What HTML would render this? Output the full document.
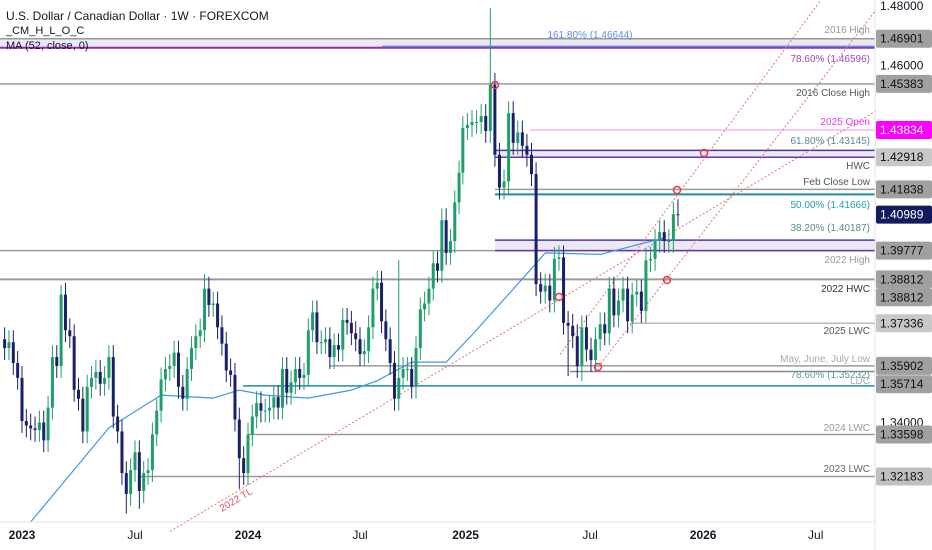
<!DOCTYPE html>
<html><head><meta charset="utf-8"><style>
body{margin:0;background:#fff;width:932px;height:550px;overflow:hidden;font-family:"Liberation Sans",sans-serif}
svg{display:block}
</style></head><body>
<svg id="chart" width="932" height="550" viewBox="0 0 932 550" font-family="Liberation Sans, sans-serif">
<g id="levels"></g>
<g id="lines"></g>
<g id="ma"></g>
<g id="candles"></g>
<g id="marks"></g>
<g id="labels"></g>
<line x1="875" y1="0" x2="875" y2="550" stroke="#e0e3eb"/>
<line x1="0" y1="522" x2="875" y2="522" stroke="#e0e3eb"/>
<g id="axis"></g>
<text x="6" y="20" font-size="12" fill="#131722">U.S. Dollar / Canadian Dollar · 1W · FOREXCOM</text>
<text x="6" y="34" font-size="11" fill="#131722">_CM_H_L_O_C</text>
<text x="6" y="49" font-size="11" fill="#131722">MA (52, close, 0)</text>
<text x="0" y="0" font-size="10" fill="#e0506a" transform="translate(222,512) rotate(-31)">2022 TL</text>
</svg>
<script>
const closes=[1.3650,1.3670,1.3600,1.3550,
1.3405,1.3390,1.3380,1.3375,1.3400,1.3340,1.3450,1.3620,1.3590,1.3830,1.3710,1.3690,1.3510,1.3480,1.3370,1.3520,1.3550,1.3570,1.3530,1.3550,1.3620,1.3420,1.3370,1.3230,1.3160,1.3240,1.3300,1.3170,1.3230,1.3240,1.3360,1.3440,1.3545,1.3580,1.3590,1.3635,1.3520,1.3480,1.3580,1.3650,1.3690,1.3710,1.3850,1.3795,1.3800,1.3720,1.3665,1.3575,1.3560,1.3410,1.3280,1.3230,
1.3360,1.3420,1.3465,1.3440,1.3440,1.3450,1.3485,1.3450,1.3580,1.3500,1.3535,1.3580,1.3550,1.3560,1.3710,1.3770,1.3670,1.3670,1.3680,1.3620,1.3660,1.3645,1.3745,1.3735,1.3700,1.3680,1.3630,1.3640,1.3720,1.3850,1.3870,1.3740,1.3680,1.3600,1.3480,1.3550,1.3580,1.3580,1.3520,1.3650,1.3780,1.3800,1.3850,1.3935,1.3910,1.4080,1.3970,1.4010,1.4140,1.4240,1.4390,1.4400,1.4410,
1.4410,1.4430,1.4380,1.4535,1.4300,1.4190,1.4210,1.4440,1.4340,1.4375,1.4330,1.4300,1.4235,1.3865,1.3840,1.3860,1.3810,1.3950,1.3955,1.3735,1.3725,1.3690,1.3590,1.3720,1.3645,1.3610,1.3680,1.3730,1.3700,1.3850,1.3760,1.3810,1.3850,1.3740,1.3830,1.3840,1.3775,1.3945,1.3950,1.4010,1.4040,1.4010,1.4010,1.4100,1.4099];
const highOverrides={13:1.3862,46:1.3898,91:1.3946,112:1.4793,153:1.4150};
const lowOverrides={28:1.3094,31:1.3110,54:1.3177,132:1.3540,129:1.3556};
const maWeeks=[6,24,36,48,54,60,70,80,86,94,102,108,120,124,136,146,150];
const maValues=[1.3066,1.3382,1.3492,1.3482,1.3509,1.3492,1.3482,1.3509,1.3540,1.3603,1.3603,1.3694,1.3900,1.3970,1.3965,1.4005,1.4020];
const tickPrices=[1.48,1.46,1.34];
const tickLabels=["1.48000","1.46000","1.34000"];
const timeWeeks=[4,30,56,82,106.6,133.8,158.5,183.1];
const timeLabels=["2023","Jul","2024","Jul","2025","Jul","2026","Jul"];
const timeBold=[1,0,1,0,1,0,1,0];

const NS="http://www.w3.org/2000/svg";
function Y(p){return 6+(1.48-p)*2975;}
const ancI=[4,56,108,160],ancX=[22,248,472,710];
function X(i){let k=0;if(i>=56)k=1;if(i>=108)k=2;if(i<108&&i>=106)k=2;const s=(ancX[k+1]-ancX[k])/(ancI[k+1]-ancI[k]);return ancX[k]+(i-ancI[k])*s;}
function el(t,a,par){const e=document.createElementNS(NS,t);for(const k in a)e.setAttribute(k,a[k]);par.appendChild(e);return e;}

// levels
const L=document.getElementById('levels');
function band(p1,p2,x0,col){el('rect',{x:x0,y:Y(p1),width:875-x0,height:Y(p2)-Y(p1),fill:col},L);}
function hl(p,x0,col,w){const e=el('line',{x1:x0,x2:875,y1:Y(p),y2:Y(p),stroke:col,'stroke-width':w||1.5},L);return e;}
band(1.46901,1.46596,0,'#ece8f5');
hl(1.46901,0,'#9a9a9a',1.5);hl(1.46596,0,'#9c27b0',2);hl(1.46644,382,'#5b8def',1.5);
hl(1.45383,0,'#9a9a9a',1.5);
hl(1.43834,530,'#f4b8ec',1.5);
band(1.43145,1.42918,495,'#ece8f5');hl(1.43145,495,'#4a3a9a',1.5);hl(1.42918,495,'#6a3aa0',1.5);
hl(1.41838,495,'#9a9a9a',1.5);hl(1.41666,495,'#1f8fa0',2);
band(1.4013,1.39777,495,'#ece8f5');hl(1.4013,495,'#4a3a9a',1.5);
hl(1.39777,0,'#9a9a9a',1.5);hl(1.39777,495,'#6a3aa0',1.5);
hl(1.38812,0,'#9a9a9a',2);
hl(1.37336,630,'#bbbbbb',1.5);
hl(1.35902,330,'#9a9a9a',1.5);hl(1.35714,570,'#888',1.5);
hl(1.35232,243,'#1f8fa0',1.5);
hl(1.33598,248,'#9a9a9a',1.5);
hl(1.32183,140,'#9a9a9a',1.5);
for(const l of L.children){}

// trendlines
const T=document.getElementById('lines');
[[170,355+0.596*296,876,111],[560,192+1.4*116,821,0],[598,367,876,10]].forEach(s=>{
 const e=el('line',{x1:s[0],y1:s[1],x2:s[2],y2:s[3],stroke:'#e57373','stroke-width':1,'stroke-dasharray':'2,2'},T);
 
 
});

// MA
let d='';maWeeks.forEach((w,k)=>{d+=(k?'L':'M')+X(w).toFixed(1)+','+Y(maValues[k]).toFixed(1);});
const mp=el('path',{d:d,fill:'none',stroke:'#3c9ae6','stroke-width':1.2,'stroke-linejoin':'round'},document.getElementById('ma'));



// candles
const C=document.getElementById('candles');
closes.forEach((c,i)=>{
 const o=i?closes[i-1]:c+0.003;
 const hi=highOverrides[i]!==undefined?highOverrides[i]:Math.max(o,c)+0.004;
 const lo=lowOverrides[i]!==undefined?lowOverrides[i]:Math.min(o,c)-0.004;
 const up=c>=o,col=up?'#1f9e6a':'#1a1f6b';
 const x=X(i);
 const g=el('g',{},C);
 
 
 el('line',{x1:x,x2:x,y1:Y(hi),y2:Y(lo),stroke:col,'stroke-width':1},g);
 const y1=Y(Math.max(o,c)),y2=Y(Math.min(o,c));
 el('rect',{x:x-1.5,y:y1,width:3,height:Math.max(1,y2-y1),fill:col},g);
});

// markers
const M=document.getElementById('marks');
[[495,85],[704,153],[677,190],[559,297],[598,367],[667,280]].forEach(p=>{
 const e=el('circle',{cx:p[0],cy:p[1],r:3.5,fill:'none',stroke:'#e53950','stroke-width':1.5},M);
 
 
});

// labels
const TL=document.getElementById('labels');
function lab(t,x,y,col,anchor){const e=el('text',{x:x,y:y,'font-size':10,fill:col,'text-anchor':anchor||'end'},TL);e.textContent=t;
 
 }
lab('2016 High',870,33,'#9a9a9a');lab('161.80% (1.46644)',590,38,'#5b8def','middle');
lab('78.60% (1.46596)',870,62,'#9c4dbb');lab('2016 Close High',870,96,'#555');
lab('2025 Open',870,125,'#e040fb');lab('61.80% (1.43145)',870,144,'#5a8a8f');
lab('HWC',870,169,'#555');lab('Feb Close Low',870,185,'#555');
lab('50.00% (1.41666)',870,208,'#1f9fb0');lab('38.20% (1.40187)',870,231,'#5a8a8f');
lab('2022 High',870,263,'#999');lab('2022 HWC',870,292,'#333');
lab('2025 LWC',870,334,'#555');lab('May, June, July Low',870,362,'#aaa');
lab('78.60% (1.35232)',870,378,'#5a9aa0');lab('LDC',870,384,'#aaa');
lab('2024 LWC',870,431,'#999');lab('2023 LWC',870,472,'#666');

// axis
const A=document.getElementById('axis');
tickPrices.forEach((p,k)=>{const e=el('text',{x:880,y:Y(p)+4,'font-size':12,fill:'#131722'},A);e.textContent=tickLabels[k];
 
 });
function box(p,t,bg,fg){const y=Y(p);const g=el('g',{},A);
 
 
 el('rect',{x:876,y:y-9,width:56,height:18,fill:bg,rx:2},g);
 const e=el('text',{x:880,y:y+4,'font-size':12,fill:fg},g);e.textContent=t;}
box(1.46901,'1.46901','#a0a0a0','#111');box(1.45383,'1.45383','#a0a0a0','#111');
box(1.43834,'1.43834','#ff00ff','#fff');box(1.42918,'1.42918','#c8c8c8','#111');
box(1.41838,'1.41838','#a0a0a0','#111');box(1.40989,'1.40989','#131a5e','#fff');
box(1.39777,'1.39777','#a0a0a0','#111');box(1.38812,'1.38812','#a0a0a0','#111');
box(1.3821,'1.38812','#a0a0a0','#111');box(1.37336,'1.37336','#c8c8c8','#111');
box(1.35902,'1.35902','#a0a0a0','#111');box(1.35286,'1.35714','#a0a0a0','#111');
box(1.33598,'1.33598','#a0a0a0','#111');box(1.32183,'1.32183','#c0c0c0','#111');
timeWeeks.forEach((w,k)=>{const e=el('text',{x:X(w),y:539,'font-size':12,fill:'#131722','text-anchor':'middle','font-weight':timeBold[k]?'bold':'normal'},A);e.textContent=timeLabels[k];
 
 });
</script>
</body></html>
